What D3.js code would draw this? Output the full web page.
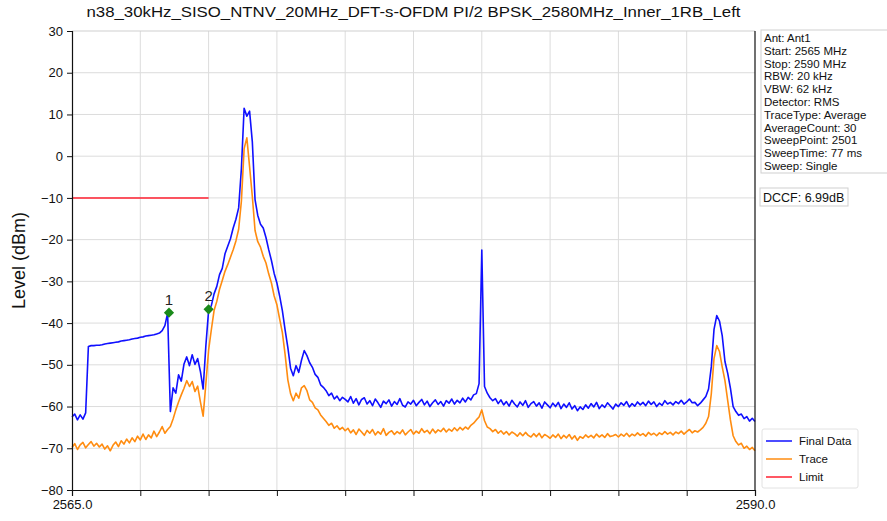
<!DOCTYPE html>
<html>
<head>
<meta charset="utf-8">
<script src="https://cdn.jsdelivr.net/npm/d3@7"></script>
<style>
  body { margin: 0; background: #fff; }
  svg { display: block; font-family: "Liberation Sans", Arial, sans-serif; }
</style>
</head>
<body>
<svg id="chart" width="887" height="521"></svg>
<script>
// sweep settings (x grid of the analyzer)
const startMHz = 2565, stopMHz = 2590;

// Final Data (blue), 0.1 MHz steps from 2565 to 2590
const finalData = [
  -62.5, -61.8, -63.2, -62.0, -63.0, -61.5, -45.6, -45.4, -45.4, -45.3,
  -45.3, -45.2, -45.0, -44.9, -44.8, -44.7, -44.6, -44.5, -44.3, -44.2,
  -44.1, -44.0, -43.8, -43.7, -43.6, -43.4, -43.3, -43.1, -43.0, -42.9,
  -42.8, -42.6, -42.4, -41.8, -40.6, -37.6, -61.2, -55.5, -56.8, -52.4,
  -53.9, -49.8, -48.1, -50.2, -47.6, -49.9, -48.5, -51.6, -55.8, -45.4,
  -37.0, -35.8, -33.0, -31.2, -28.4, -26.9, -23.4, -21.6, -19.8, -17.2,
  -15.1, -12.4, -3.0, 11.5, 9.6, 10.8, 3.5, -10.4, -14.2, -16.3,
  -17.2, -19.5, -22.4, -25.0, -28.1, -30.4, -33.5, -37.0, -41.6, -45.8,
  -50.8, -52.6, -50.2, -51.8, -48.9, -46.6, -47.8, -49.5, -50.6, -52.3,
  -53.0, -54.8, -55.4, -56.2, -57.4, -56.8, -58.2, -57.5, -58.6, -57.8,
  -58.3, -58.9, -57.6, -59.2, -58.1, -59.6, -58.3, -57.9, -59.4, -58.6,
  -59.8, -58.2, -59.1, -60.2, -58.7, -59.3, -58.4, -59.9, -58.8, -59.5,
  -58.1, -59.7, -60.1, -58.9, -59.4, -58.5, -59.8, -59.0, -58.3, -59.6,
  -58.7, -60.0, -59.1, -58.4, -59.5, -58.8, -59.9, -58.6, -59.2, -58.2,
  -59.4, -58.5, -59.1, -58.0, -58.9, -57.8, -58.4, -57.2, -56.9, -54.5,
  -22.5, -55.2, -56.8, -57.9, -58.6, -58.1, -59.3, -58.4, -59.6, -58.8,
  -59.9, -58.5, -59.4, -60.1, -58.9, -59.7, -58.6, -60.2, -59.3, -58.8,
  -59.9, -59.1, -60.4, -58.9, -59.6, -60.3, -59.2, -60.0, -59.0, -60.5,
  -59.4, -60.2, -59.1, -60.6, -59.8, -61.0, -60.1, -60.7, -59.6, -60.4,
  -59.3, -60.1, -59.0, -60.5, -59.6, -60.2, -59.1, -59.8, -60.6, -59.4,
  -60.0, -59.1, -59.7, -58.8, -60.1, -59.3, -59.9, -58.9, -59.6, -59.0,
  -59.8, -58.7, -59.5, -58.9, -60.0, -59.2, -59.7, -58.6, -59.4, -59.0,
  -59.6, -58.8, -59.3, -58.5, -59.4, -58.9, -58.2, -59.1, -59.0, -59.8,
  -59.2, -58.4, -57.6, -55.8, -50.5, -41.5, -38.2, -39.5, -43.0, -49.2,
  -52.0, -55.6, -60.0, -61.2, -62.1, -61.8, -62.9, -62.4, -63.5, -62.8, -63.6
];

// Trace (orange), same grid
const traceData = [
  -69.8, -68.9, -70.3, -69.2, -68.6, -69.9, -69.1, -68.4, -69.5, -68.8,
  -69.7, -69.0, -70.2, -69.4, -70.6, -69.3, -68.5, -69.6, -68.2, -69.0,
  -67.8, -68.7, -67.5, -68.4, -67.1, -68.0, -66.6, -67.9, -66.8, -67.5,
  -65.9, -67.2, -66.1, -64.8, -66.4, -65.5, -64.8, -63.0, -60.8, -58.9,
  -57.2, -55.6, -53.8, -55.2, -54.0, -56.4, -55.1, -58.9, -62.3, -54.5,
  -46.5, -41.6, -37.0, -34.8, -31.9, -29.8, -27.6, -26.0, -24.2, -22.4,
  -20.3, -17.5, -10.8, 1.8, 4.4, -2.5, -9.6, -17.8, -20.5, -21.8,
  -24.0, -25.6, -28.2, -30.4, -33.5, -35.6, -39.0, -42.3, -47.5, -53.6,
  -56.9, -58.6, -56.8, -58.0, -55.5, -55.0, -56.2, -58.4, -59.0, -60.3,
  -60.8, -62.0, -62.8, -63.6, -64.5, -64.0, -65.2, -64.6, -65.5, -65.0,
  -65.8, -65.2, -66.3, -65.6, -66.7, -65.4, -66.1, -66.9, -65.7, -66.4,
  -65.5, -66.8, -66.0, -66.6, -65.3, -66.9, -66.2, -65.8, -66.7, -66.0,
  -66.5, -65.6, -66.8, -66.1, -65.5, -66.6, -65.9, -66.4, -65.3, -66.2,
  -65.7, -66.5, -65.4, -66.3, -65.6, -66.0, -65.2, -66.1, -65.4, -65.9,
  -65.1, -65.8, -65.0, -65.6, -64.9, -65.4, -64.5, -64.0, -63.2, -62.5,
  -60.8, -63.4, -64.9, -65.3, -66.0, -65.5, -66.4, -65.8, -66.6, -66.0,
  -66.8, -66.1, -66.5, -67.1, -66.3, -67.0, -66.2, -66.9, -67.3, -66.5,
  -67.2, -66.4, -67.5, -66.7, -67.1, -67.6, -66.8, -67.4, -66.6, -67.7,
  -66.9, -67.5, -66.7, -67.8, -67.0, -68.1, -67.2, -67.6, -66.8, -67.4,
  -66.9, -67.5, -66.6, -67.3, -66.8, -67.4, -66.5, -67.2, -67.0, -66.7,
  -67.3, -66.6, -67.1, -66.4, -67.2, -66.6, -67.0, -66.3, -66.9, -66.5,
  -67.1, -66.2, -66.8, -66.4, -67.0, -66.3, -66.7, -66.0, -66.6, -66.2,
  -66.8, -66.1, -66.5, -65.9, -66.6, -66.0, -65.5, -66.3, -65.8, -66.1,
  -65.6, -65.0, -64.0, -62.4, -57.0, -48.5, -45.4, -46.8, -50.5, -53.8,
  -58.5, -63.2, -67.0, -68.4, -69.2, -68.8, -70.0, -69.5, -70.3, -69.8, -70.6
];

// limit line
const limitFreqs = [2565, 2570];
const limitLevels = [-10, -10];

// markers
const markerLabels = ["1", "2"];
const markerFreqs = [2568.55, 2570.0];
const markerLevels = [-37.5, -36.7];

const yTicks = [30, 20, 10, 0, -10, -20, -30, -40, -50, -60, -70, -80];
const xTicks = [2565, 2567.5, 2570, 2572.5, 2575, 2577.5, 2580, 2582.5, 2585, 2587.5, 2590];

const infoLines = [
  "Ant: Ant1", "Start: 2565 MHz", "Stop: 2590 MHz", "RBW: 20 kHz", "VBW: 62 kHz",
  "Detector: RMS", "TraceType: Average", "AverageCount: 30", "SweepPoint: 2501",
  "SweepTime: 77 ms", "Sweep: Single"
];
const dccfText = "DCCF: 6.99dB";
const legendNames = ["Final Data", "Trace", "Limit"];
const colors = { final: "#1010ff", trace: "#ff8c10", limit: "#ff2030" };

const svg = d3.select("#chart");
const L = 72, R = 755, T = 31, B = 490;

const x = d3.scaleLinear().domain([startMHz, stopMHz]).range([L, R]);
const y = d3.scaleLinear().domain([-80, 30]).range([B, T]);

const freqAt = (i, n) => startMHz + i * (stopMHz - startMHz) / (n - 1);

// grid
svg.append("g")
  .selectAll("line")
  .data(yTicks.slice(1, -1))
  .join("line")
    .attr("x1", L).attr("x2", R)
    .attr("y1", d => y(d)).attr("y2", d => y(d))
    .attr("stroke", "#dcdcdc").attr("stroke-width", 1);
svg.append("g")
  .selectAll("line")
  .data(xTicks.slice(1, -1))
  .join("line")
    .attr("y1", T).attr("y2", B)
    .attr("x1", d => x(d)).attr("x2", d => x(d))
    .attr("stroke", "#dcdcdc").attr("stroke-width", 1);
// top frame (light)
svg.append("line")
  .attr("x1", L).attr("x2", R).attr("y1", T).attr("y2", T)
  .attr("stroke", "#cfcfcf");

// traces
const line = d3.line()
  .x((d, i, arr) => x(freqAt(i, arr.length)))
  .y(d => y(d));

svg.append("path")
  .datum(finalData)
  .attr("d", line)
  .attr("fill", "none")
  .attr("stroke", colors.final)
  .attr("stroke-width", 1.6)
  .attr("stroke-linejoin", "round");

svg.append("path")
  .datum(traceData)
  .attr("d", line)
  .attr("fill", "none")
  .attr("stroke", colors.trace)
  .attr("stroke-width", 1.6)
  .attr("stroke-linejoin", "round");

svg.append("path")
  .datum(limitFreqs.map((f, i) => [f, limitLevels[i]]))
  .attr("d", d3.line().x(d => x(d[0])).y(d => y(d[1])))
  .attr("fill", "none")
  .attr("stroke", colors.limit)
  .attr("stroke-width", 1.5);

// markers
const diamond = d3.symbol(d3.symbolSquare, 52);
markerFreqs.forEach((f, i) => {
  svg.append("path")
    .attr("d", diamond())
    .attr("transform", `translate(${x(f)},${y(markerLevels[i])}) rotate(45)`)
    .attr("fill", "#1a8a1a");
  svg.append("text")
    .attr("x", x(f)).attr("y", y(markerLevels[i]) - 8)
    .attr("text-anchor", "middle")
    .attr("font-size", 15)
    .attr("fill", "#222")
    .text(markerLabels[i]);
});

// axes
const yAxis = svg.append("g")
  .attr("transform", `translate(${L},0)`)
  .call(d3.axisLeft(y).tickValues(yTicks).tickSize(5).tickPadding(4)
    .tickFormat(d => String(d).replace("-", "\u2212")));
const xAxis = svg.append("g")
  .attr("transform", `translate(0,${B})`)
  .call(d3.axisBottom(x).tickValues(xTicks).tickSize(6).tickPadding(4)
    .tickFormat(d => (d === startMHz || d === stopMHz) ? d.toFixed(1) : ""));
[yAxis, xAxis].forEach(g => {
  g.selectAll("text").attr("font-size", 13).attr("fill", "#111")
    .attr("font-family", "Liberation Sans, Arial, sans-serif");
  g.selectAll("line").attr("stroke", "#111");
  g.select(".domain").attr("stroke", "#111").attr("stroke-width", 1.2);
});
// right frame
svg.append("line")
  .attr("x1", R).attr("x2", R).attr("y1", T).attr("y2", B)
  .attr("stroke", "#111").attr("stroke-width", 1.2);

// title
svg.append("text")
  .attr("x", (L + R) / 2).attr("y", 17)
  .attr("text-anchor", "middle")
  .attr("font-size", 15)
  .attr("textLength", 654).attr("lengthAdjust", "spacingAndGlyphs")
  .attr("fill", "#111")
  .text("n38_30kHz_SISO_NTNV_20MHz_DFT-s-OFDM PI/2 BPSK_2580MHz_Inner_1RB_Left");

// y label
svg.append("text")
  .attr("transform", `translate(25,${(T + B) / 2}) rotate(-90)`)
  .attr("text-anchor", "middle")
  .attr("font-size", 18)
  .attr("fill", "#111")
  .text("Level (dBm)");

// info box
svg.append("rect")
  .attr("x", 761).attr("y", 30).attr("width", 140).attr("height", 143)
  .attr("fill", "#fff").attr("stroke", "#cfcfcf");
svg.append("g")
  .selectAll("text")
  .data(infoLines)
  .join("text")
    .attr("x", 764).attr("y", (d, i) => 42 + i * 12.8)
    .attr("font-size", 11.5)
    .attr("fill", "#111")
    .text(d => d);

// DCCF box
svg.append("rect")
  .attr("x", 760).attr("y", 188).attr("width", 88).attr("height", 18)
  .attr("fill", "#fff").attr("stroke", "#cfcfcf");
svg.append("text")
  .attr("x", 763).attr("y", 202)
  .attr("font-size", 12.5).attr("fill", "#111")
  .text(dccfText);

// legend
svg.append("rect")
  .attr("x", 762).attr("y", 429).attr("width", 96).attr("height", 59)
  .attr("rx", 2)
  .attr("fill", "#fff").attr("stroke", "#e2e2e2");
const legendColors = [colors.final, colors.trace, colors.limit];
legendNames.forEach((name, i) => {
  const ly = 441 + i * 18;
  svg.append("line")
    .attr("x1", 766).attr("x2", 792).attr("y1", ly).attr("y2", ly)
    .attr("stroke", legendColors[i]).attr("stroke-width", 1.5);
  svg.append("text")
    .attr("x", 799).attr("y", ly + 4)
    .attr("font-size", 11.5).attr("fill", "#111")
    .text(name);
});
</script>
</body>
</html>
